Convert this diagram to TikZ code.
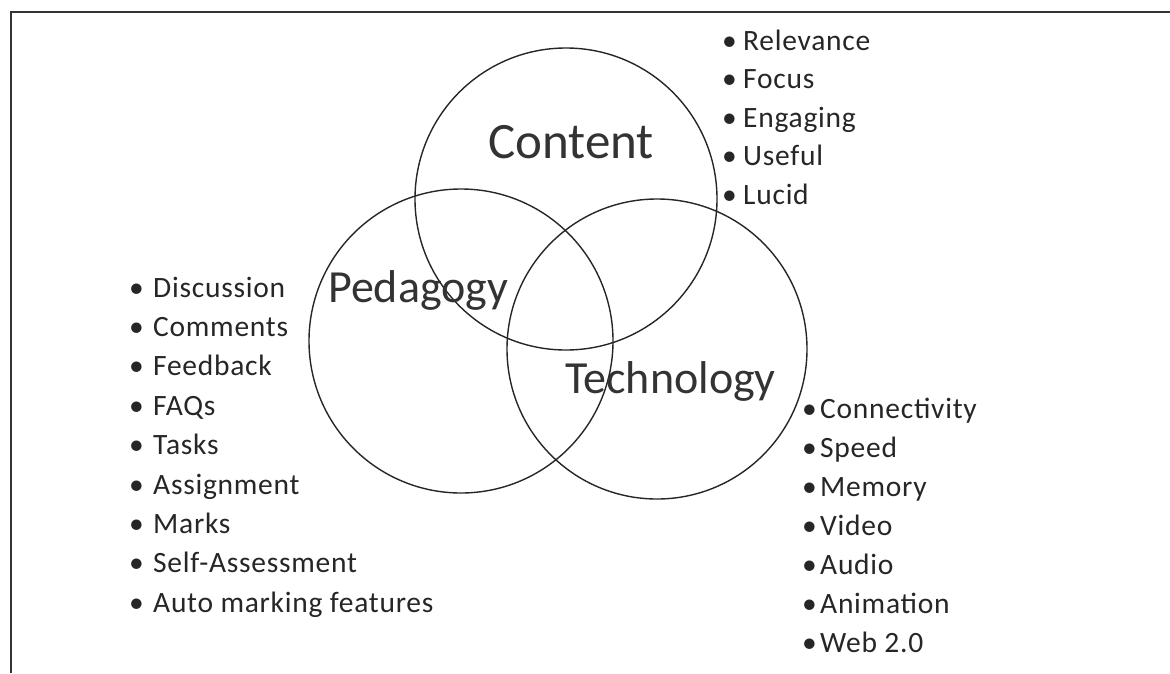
\documentclass[tikz,border=0pt]{standalone}
\usepackage{fontspec}
\setmainfont{Carlito}
\newfontfamily\itemfont[LetterSpace=2.5]{Carlito}
\begin{document}
\begin{tikzpicture}[x=1pt,y=-1pt,
  venn/.style={draw=black!85,line width=1.4pt},
  big/.style={inner sep=0pt,anchor=base west,font=\fontsize{46}{46}\selectfont,text=black!80},
  item/.style={inner sep=0pt,anchor=base west,font=\itemfont\fontsize{29.5}{30}\selectfont,text=black!85},
  frameline/.style={draw=black!80,line width=2.6pt}]
\useasboundingbox (0,0) rectangle (1170,673);
% frame (top and left edges visible)
\draw[frameline] (11,673) -- (11,12) -- (1170,12);
% circles
\node[venn,circle,minimum size=302pt,inner sep=0pt] (C) at (566,199) {};
\node[venn,circle,minimum size=304pt,inner sep=0pt] (P) at (461,341) {};
\node[venn,circle,minimum size=300pt,inner sep=0pt] (T) at (657,349) {};
% titles
\node[big,font=\fontsize{51}{51}\selectfont] (tc) at (488,158) {Content};
\node[big] (tp) at (328,302) {Pedagogy};
\node[big] (tt) at (565,393) {Technology};
% left list
\newcommand{\bl}[1]{\makebox[24pt][l]{•}#1}
\node[item] (l1) at (129,297) {\bl{Discussion}};
\node[item] (l2) at (129,336.4) {\bl{Comments}};
\node[item] (l3) at (129,375.8) {\bl{Feedback}};
\node[item] (l4) at (129,415.2) {\bl{FAQs}};
\node[item] (l5) at (129,454.6) {\bl{Tasks}};
\node[item] (l6) at (129,494) {\bl{Assignment}};
\node[item] (l7) at (129,533.4) {\bl{Marks}};
\node[item] (l8) at (129,572.8) {\bl{Self-Assessment}};
\node[item] (l9) at (129,612.2) {\bl{Auto marking features}};
% top-right list
\newcommand{\br}[1]{\makebox[21pt][l]{•}#1}
\node[item] (r1) at (722,50) {\br{Relevance}};
\node[item] (r2) at (722,88.5) {\br{Focus}};
\node[item] (r3) at (722,127) {\br{Engaging}};
\node[item] (r4) at (722,165.5) {\br{Useful}};
\node[item] (r5) at (722,204) {\br{Lucid}};
% bottom-right list
\newcommand{\bt}[1]{\makebox[18pt][l]{•}#1}
\node[item] (t1) at (802,418) {\bt{Connectivity}};
\node[item] (t2) at (802,457) {\bt{Speed}};
\node[item] (t3) at (802,496) {\bt{Memory}};
\node[item] (t4) at (802,535) {\bt{Video}};
\node[item] (t5) at (802,574) {\bt{Audio}};
\node[item] (t6) at (802,613) {\bt{Animation}};
\node[item] (t7) at (802,652) {\bt{Web 2.0}};
\end{tikzpicture}
\end{document}
